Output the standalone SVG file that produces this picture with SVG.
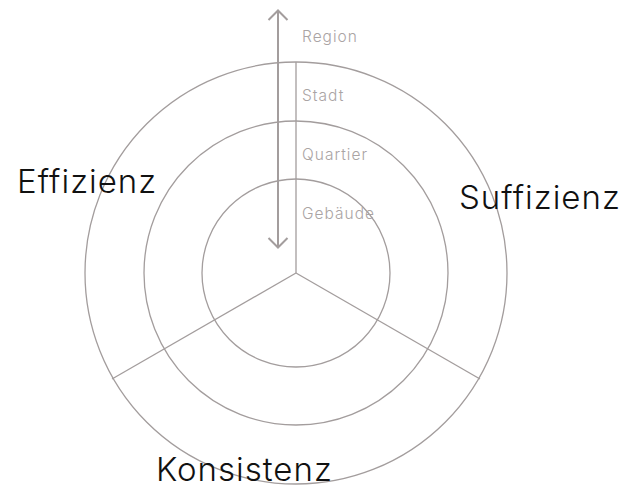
<svg xmlns="http://www.w3.org/2000/svg" width="627" height="489" viewBox="0 0 627 489">
<style>
.ln{fill:none;stroke:#a39d9d;stroke-width:1.3}
.ar{fill:none;stroke:#a39d9d;stroke-width:2}
.sm{font-family:Inter,"Noto Sans",sans-serif;font-size:15.5px;letter-spacing:1px;fill:#aaa4a4;font-weight:300}
.bg{font-family:Inter,"Noto Sans",sans-serif;font-size:33px;letter-spacing:1px;fill:#111;font-weight:300}
</style>
<rect width="627" height="489" fill="#fff"/>
<g id="circles">
<circle class="ln" cx="296" cy="273" r="211"/>
<circle class="ln" cx="296" cy="273" r="152"/>
<circle class="ln" cx="296" cy="273" r="94"/>
</g>
<g id="connectors">
<line class="ln" x1="296" y1="273" x2="296" y2="62"/>
<line class="ln" x1="296" y1="273" x2="112" y2="379"/>
<line class="ln" x1="296" y1="273" x2="480" y2="379"/>
<g id="scale-arrow">
<line class="ar" x1="278" y1="11" x2="278" y2="247"/>
<polyline class="ar" points="268.5,20 278,10.5 287.5,20"/>
<polyline class="ar" points="268.5,238 278,247.5 287.5,238"/>
</g>
</g>
<g id="scale-labels">
<text class="sm" x="302" y="42">Region</text>
<text class="sm" x="302" y="101">Stadt</text>
<text class="sm" x="302" y="160">Quartier</text>
<text class="sm" x="302" y="219">Gebäude</text>
</g>
<g id="effizienz"><text class="bg" x="17" y="193">Effizienz</text></g>
<g id="suffizienz"><text class="bg" x="459" y="209">Suffizienz</text></g>
<g id="konsistenz"><text class="bg" x="156" y="481">Konsistenz</text></g>
</svg>
